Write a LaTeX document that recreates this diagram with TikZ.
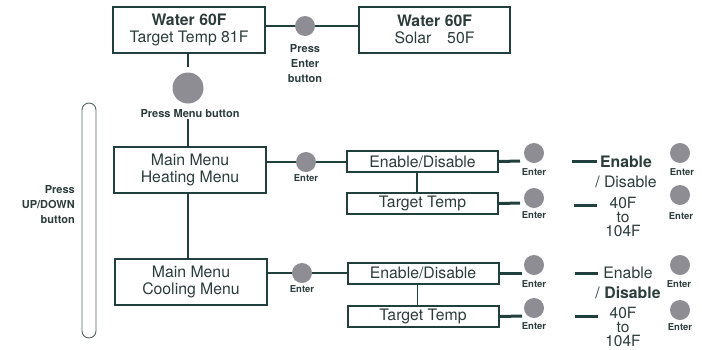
\documentclass[tikz,border=0pt]{standalone}
\usepackage{fontspec}
\setmainfont{TeX Gyre Heros}
\usepackage{tikz}
\usetikzlibrary{calc}
\definecolor{boxc}{HTML}{21403D}
\definecolor{txtc}{HTML}{2C3C3B}
\definecolor{btnc}{HTML}{8E8D93}
\def\bigfont{\fontsize{15.8}{17}\selectfont}
\def\smallfont{\bfseries\fontsize{9.5}{15}\selectfont}
\def\pressfont{\bfseries\fontsize{11}{15}\selectfont}
\tikzset{
	disp/.style={draw=boxc, line width=2pt, text=txtc, align=center, minimum width=152pt, minimum height=46pt, inner sep=0pt, font=\bigfont},
	opt/.style={draw=boxc, line width=2pt, text=txtc, minimum width=151pt, minimum height=21pt, inner sep=0pt, font=\bigfont},
	btn/.style={circle, fill=btnc, inner sep=0pt, minimum size=20pt},
	lbl/.style={text=txtc, align=center, inner sep=1pt, font=\smallfont},
	press/.style={lbl, font=\pressfont},
	val/.style={text=txtc, align=center, inner sep=0pt, font=\bigfont},
	wire/.style={draw=boxc, line width=1.6pt},
	vwire/.style={draw=boxc, line width=1.2pt},
	stub/.style={draw=boxc, line width=3pt}
}
\begin{document}
\begin{tikzpicture}[x=1pt, y=-1pt]
			%%%%% START %%%%%
			\useasboundingbox (0, 0) rectangle (702, 349);
			
			% top displays
			\node[disp] (water) at (189, 29.5) {\textbf{Water 60F}\\Target Temp 81F};
			\node[disp, minimum width=151pt] (solar) at (434.5, 29.5) {\textbf{Water 60F}\\Solar\quad 50F};
			\node[btn] (enterbtn) at (305, 26) {};
			\node[press] (enterlbl) at (305, 64) {Press\\Enter\\button};
			\draw[wire] (water.east |- enterbtn) -- (enterbtn) -- (solar.west |- enterbtn);
			
			\node[btn, minimum size=31pt] (menubtn) at (188, 88) {};
			\node[press] (menulbl) at (190, 114) {Press Menu button};
			
			% main menus
			\node[disp] (heat) at (190, 170) {Main Menu\\Heating Menu};
			\node[disp] (cool) at (191, 281.5) {Main Menu\\Cooling Menu};
			\draw[vwire, shorten >=5pt] (menubtn |- water.south) -- (menubtn);
			\draw[vwire] (menulbl.south -| menubtn) -- (menubtn |- heat.north);
			\draw[vwire] (heat.south -| menubtn) -- (menubtn |- cool.north);
			
			\draw[draw=txtc!80, line width=0.9pt, rounded corners=7pt] (82, 103) rectangle (96, 338);
			\node[press, align=right, anchor=east] (updown) at (76, 205) {Press\\UP/DOWN\\button};
			
			% heating branch
			\node[btn] (heatent) at (306, 162) {};
			\node[lbl] (heatentlbl) at (306, 178) {Enter};
			\node[opt] (heaten) at (422.5, 161.5) {Enable/Disable};
			\node[opt] (heattt) at (422.5, 203.5) {Target Temp};
			\draw[wire] (heat.east |- heatent) -- (heatent) -- (heaten.west |- heatent);
			\draw[vwire] ([xshift=-5.5pt]heaten.south) -- ([xshift=-5.5pt]heattt.north);
			
			\node[btn] (b1) at (534, 153) {};
			\node[lbl] (b1lbl) at (534, 172) {Enter};
			\node[btn] (b2) at (680, 153) {};
			\node[lbl] (b2lbl) at (682, 172) {Enter};
			\node[btn] (b3) at (534, 198) {};
			\node[lbl] (b3lbl) at (534, 215) {Enter};
			\node[btn] (b4) at (680, 195) {};
			\node[lbl] (b4lbl) at (681, 216) {Enter};
			
			\node[val, font=\fontsize{15.8}{20}\selectfont] (heatval1) at (626, 172) {\textbf{Enable}\\/ Disable};
			\node[val, font=\fontsize{15.5}{14}\selectfont] (heatval2) at (623, 217) {40F\\to\\104F};
			\coordinate (s1) at (520, 161);
			\coordinate (s2) at (572, 161);
			\coordinate (s3) at (520, 203);
			\coordinate (s4) at (574, 205);
			\draw[stub] (heaten.east) -- (s1);
			\draw[stub] (s2) -- ++(25, 0);
			\draw[stub] (heattt.east) -- (s3);
			\draw[stub] (s4) -- ++(23, 0);
			
			% cooling branch
			\node[btn] (coolent) at (302, 273) {};
			\node[lbl] (coolentlbl) at (302, 289) {Enter};
			\node[opt] (coolen) at (423, 273) {Enable/Disable};
			\node[opt] (cooltt) at (423, 316.5) {Target Temp};
			\draw[wire] (cool.east |- coolent) -- (coolent) -- (coolen.west |- coolent);
			\draw[vwire] ([xshift=-5.5pt]coolen.south) -- ([xshift=-5.5pt]cooltt.north);
			
			\node[btn] (b5) at (534, 265) {};
			\node[lbl] (b5lbl) at (534, 284) {Enter};
			\node[btn] (b6) at (680, 265) {};
			\node[lbl] (b6lbl) at (679, 284) {Enter};
			\node[btn] (b7) at (534, 308) {};
			\node[lbl] (b7lbl) at (534, 326) {Enter};
			\node[btn] (b8) at (680, 310) {};
			\node[lbl] (b8lbl) at (680, 327) {Enter};
			
			\node[val, font=\fontsize{15.8}{20}\selectfont] (coolval1) at (628, 283) {Enable\\/ \textbf{Disable}};
			\node[val, font=\fontsize{15.5}{14}\selectfont] (coolval2) at (623, 327) {40F\\to\\104F};
			\coordinate (s5) at (522, 273);
			\coordinate (s6) at (575, 273);
			\coordinate (s7) at (522, 316);
			\coordinate (s8) at (575, 316);
			\draw[stub] (coolen.east) -- (s5);
			\draw[stub] (s6) -- ++(23, 0);
			\draw[stub] (cooltt.east) -- (s7);
			\draw[stub] (s8) -- ++(23, 0);
			
			%%%%% END %%%%%
\end{tikzpicture}
\end{document}
